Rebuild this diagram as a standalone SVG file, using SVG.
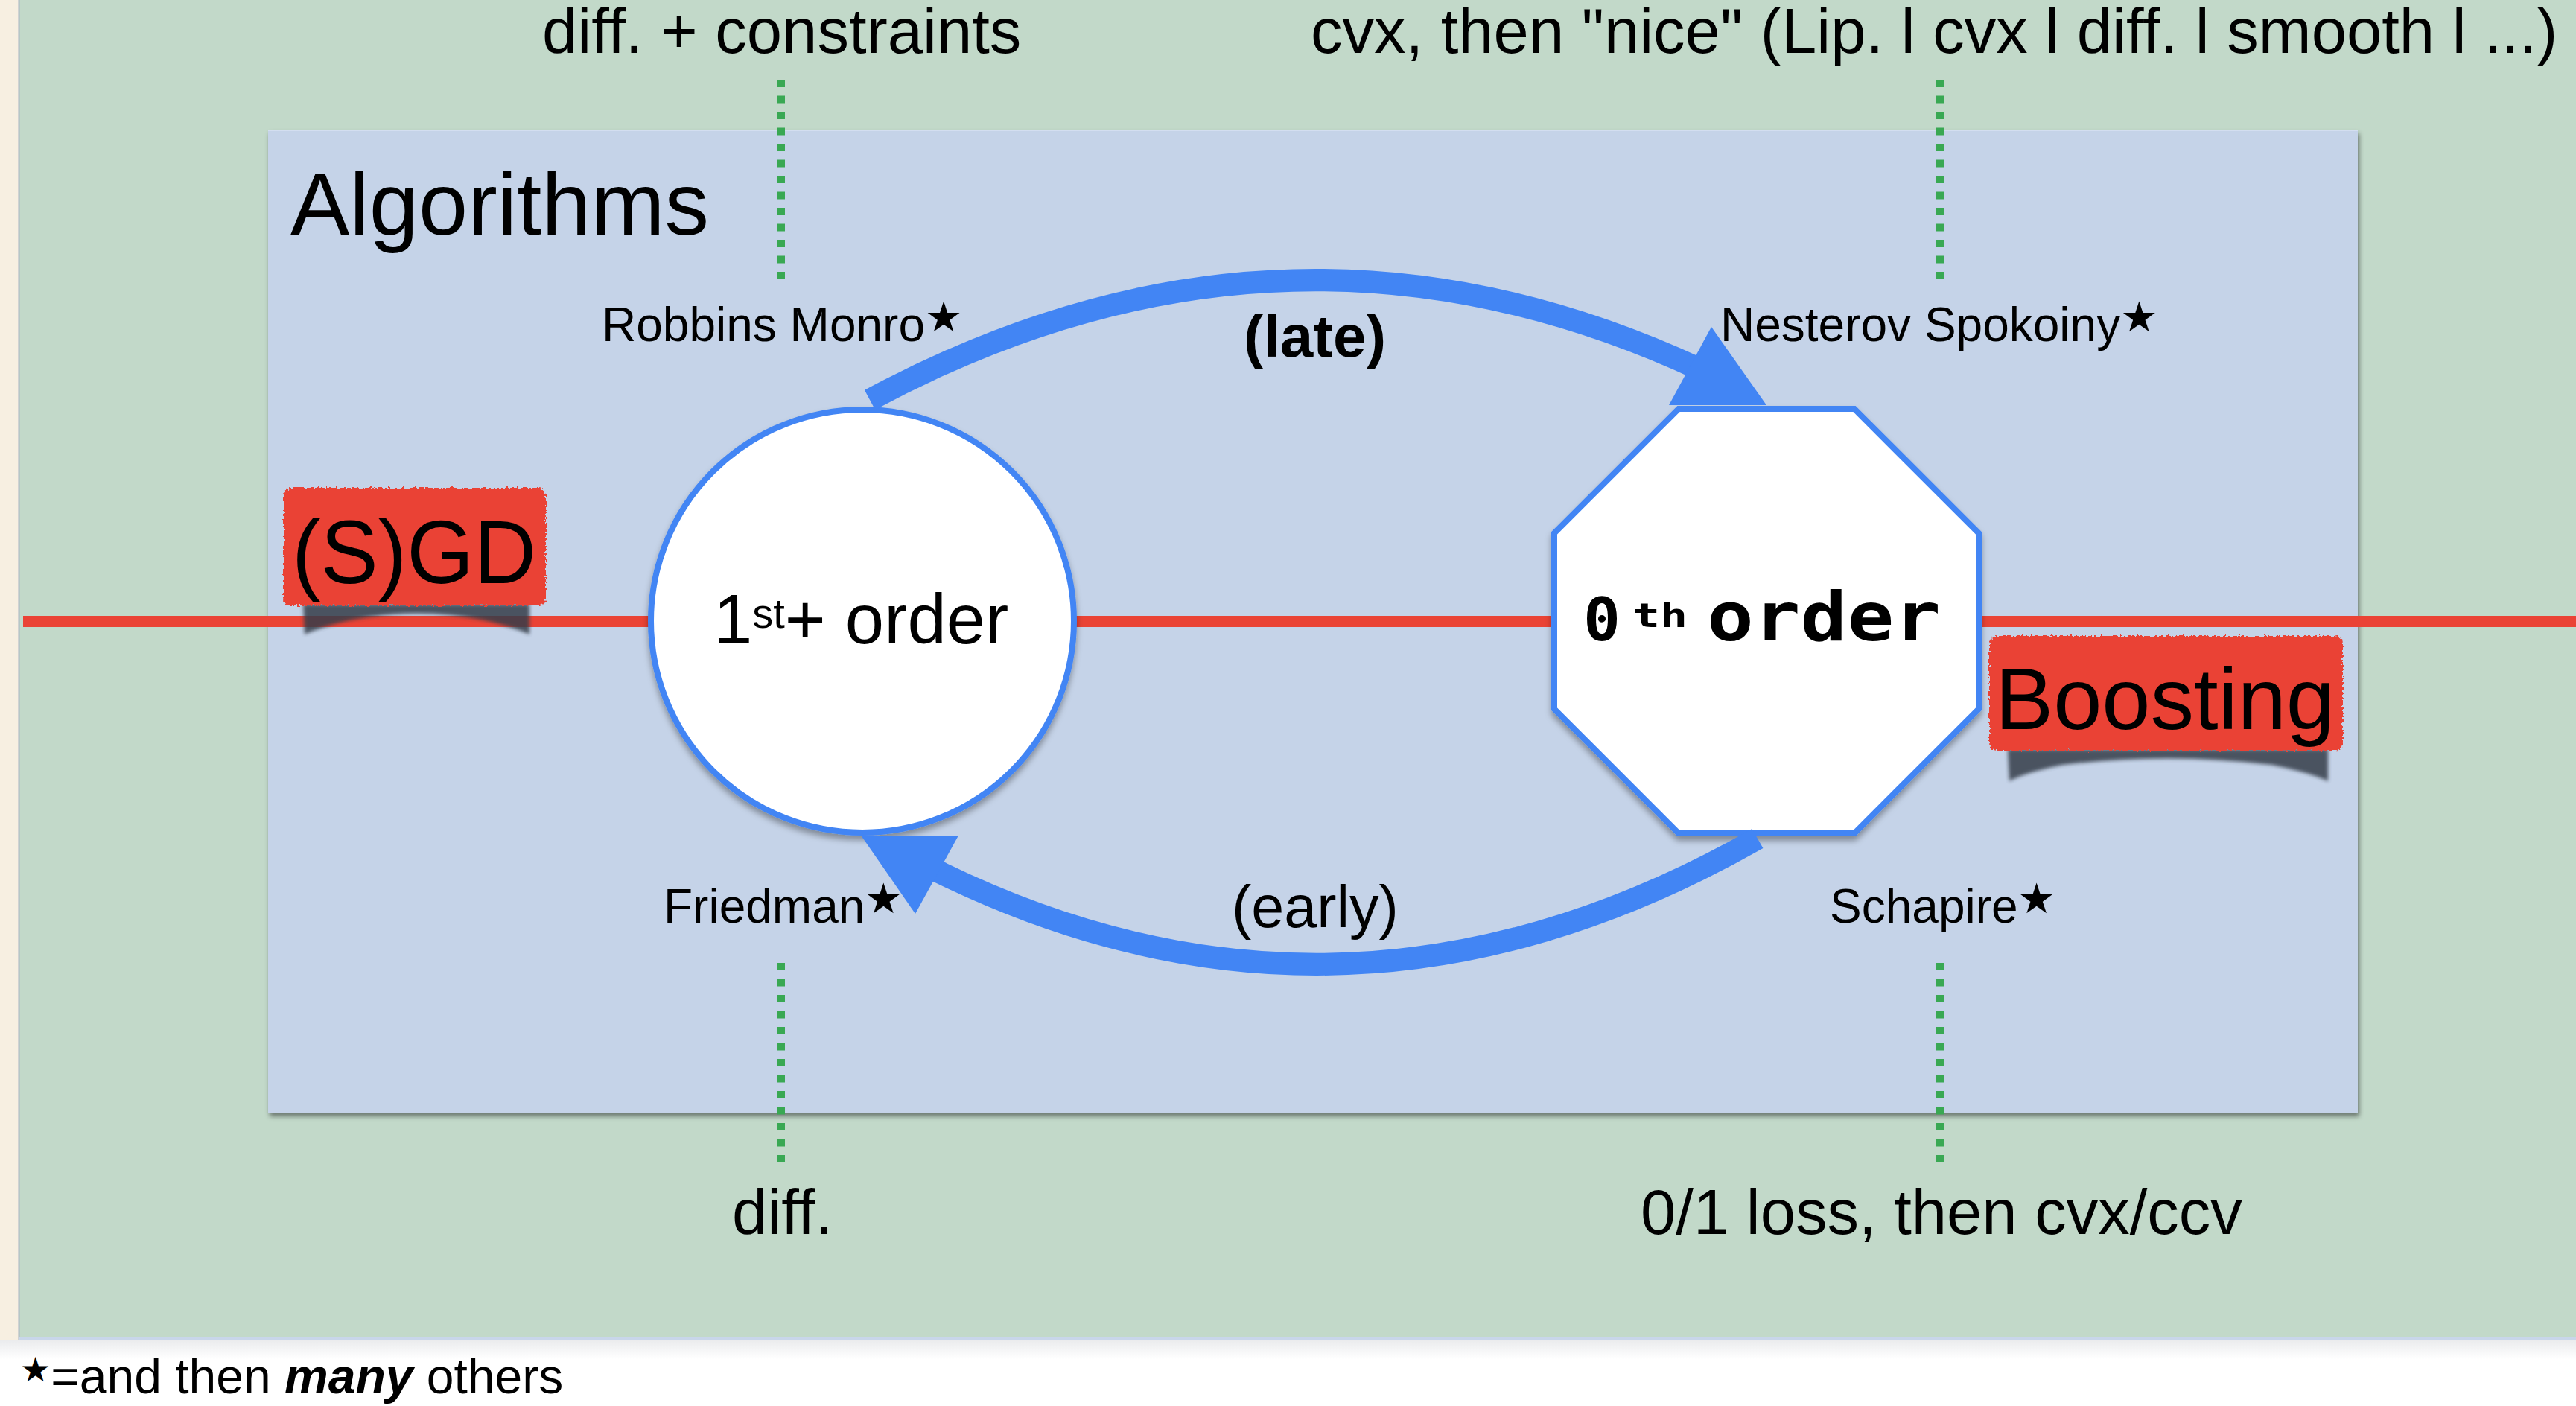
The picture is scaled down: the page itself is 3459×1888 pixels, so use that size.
<svg xmlns="http://www.w3.org/2000/svg" width="3459" height="1888" viewBox="0 0 3459 1888">
<defs>
<style>
.t{font-family:"Liberation Sans",Arial,Helvetica,sans-serif;fill:#000}
.big{font-size:85px}
.small{font-size:64px}
.star{font-family:"DejaVu Sans",sans-serif}
.pix{font-family:"DejaVu Sans Mono","Liberation Mono",monospace;font-weight:bold;fill:#000}
.dots{stroke:#39a853;stroke-width:10;stroke-dasharray:10 11.5;fill:none}
.shaft{fill:none;stroke:#4285f4;stroke-width:30}
.head{fill:#4285f4}
.node{fill:#fff;stroke:#4285f4;stroke-width:8}
.tag{fill:#ea4335}
.curl{fill:#353d48;opacity:.85}
</style>
<filter id="boxShadow" x="-5%" y="-5%" width="110%" height="110%">
<feDropShadow dx="2" dy="5" stdDeviation="3" flood-color="#000" flood-opacity="0.45"/>
</filter>
<filter id="nodeShadow" x="-10%" y="-10%" width="120%" height="125%">
<feDropShadow dx="0" dy="6" stdDeviation="4" flood-color="#000" flood-opacity="0.35"/>
</filter>
<filter id="rough" x="-5%" y="-10%" width="110%" height="120%">
<feTurbulence type="fractalNoise" baseFrequency="0.3" numOctaves="2" seed="4" result="n"/>
<feDisplacementMap in="SourceGraphic" in2="n" scale="8" xChannelSelector="R" yChannelSelector="G"/>
</filter>
<filter id="blur" x="-10%" y="-50%" width="120%" height="200%">
<feGaussianBlur stdDeviation="2.5"/>
</filter>
<linearGradient id="footer" x1="0" y1="0" x2="0" y2="1">
<stop offset="0" stop-color="#e9eaec"/>
<stop offset="0.3" stop-color="#ffffff"/>
<stop offset="1" stop-color="#ffffff"/>
</linearGradient>
</defs>

<!-- background -->
<rect x="0" y="0" width="3459" height="1888" fill="#ffffff"/>
<rect x="0" y="1798" width="3459" height="90" fill="url(#footer)"/>
<rect x="0" y="0" width="25" height="1800" fill="#f7efe1"/>
<rect x="26" y="0" width="3433" height="1798" fill="#c2d9c9"/>
<line x1="25.5" y1="0" x2="25.5" y2="1800" stroke="#a9b6c4" stroke-width="2"/>
<rect x="26" y="1796" width="3433" height="4" fill="#c8d6ea"/>

<!-- Algorithms box -->
<g id="algorithms">
<rect x="360" y="174" width="2806" height="1320" fill="#c5d3e8" filter="url(#boxShadow)"/>
<line x1="360" y1="175" x2="3166" y2="175" stroke="#d3def0" stroke-width="2"/>
<text class="t" x="390" y="315" font-size="119">Algorithms</text>
</g>

<!-- dotted guide lines -->
<g id="guides">
<line class="dots" x1="1049" y1="107" x2="1049" y2="377"/>
<line class="dots" x1="2605" y1="107" x2="2605" y2="377"/>
<line class="dots" x1="1049" y1="1293" x2="1049" y2="1563"/>
<line class="dots" x1="2605" y1="1293" x2="2605" y2="1563"/>
</g>

<!-- outer labels -->
<g id="outer-labels">
<text class="t big" x="728" y="71">diff. + constraints</text>
<text class="t big" x="1760" y="71">cvx, then "nice" (Lip. l cvx l diff. l smooth l ...)</text>
<text class="t big" x="983" y="1657">diff.</text>
<text class="t big" x="2203" y="1657">0/1 loss, then cvx/ccv</text>
</g>

<!-- red axis line -->
<line id="axis" x1="31" y1="834.5" x2="3459" y2="834.5" stroke="#ea4335" stroke-width="15"/>

<!-- nodes -->
<g id="node-first-order">
<circle class="node" cx="1158" cy="834" r="284" filter="url(#nodeShadow)"/>
<text class="t" x="958" y="864" font-size="94">1<tspan font-size="56" dy="-21">st</tspan><tspan dy="21">+ order</tspan></text>
</g>

<g id="node-zeroth-order">
<polygon class="node" filter="url(#nodeShadow)" points="2254,549 2490,549 2657,716 2657,952 2490,1119 2254,1119 2087,952 2087,716"/>
<text class="pix" x="2126" y="860" font-size="80" textLength="50" lengthAdjust="spacingAndGlyphs">0</text>
<text class="pix" x="2192" y="842" font-size="44" textLength="74" lengthAdjust="spacingAndGlyphs">th</text>
<text class="pix" x="2292" y="860" font-size="90" textLength="314" lengthAdjust="spacingAndGlyphs">order</text>
</g>

<!-- connectors -->
<g id="connectors">
<path class="shaft" d="M1168,537 Q1737,231 2306,507"/>
<polygon class="head" points="2241,544 2372,544 2298,439"/>
<path class="shaft" d="M2360,1126 Q1802,1444 1245,1163"/>
<polygon class="head" points="1157,1123 1287,1122 1229,1227"/>
<text class="t" x="1670" y="479" font-size="80" font-weight="bold">(late)</text>
<text class="t" x="1654" y="1245" font-size="79">(early)</text>
</g>

<!-- author labels -->
<g id="authors">
<text class="t small" x="808" y="458">Robbins Monro<tspan class="star" font-size="56" dy="-13">★</tspan></text>
<text class="t small" x="2310" y="458">Nesterov Spokoiny<tspan class="star" font-size="56" dy="-13">★</tspan></text>
<text class="t small" x="891" y="1239">Friedman<tspan class="star" font-size="56" dy="-13">★</tspan></text>
<text class="t small" x="2457" y="1239">Schapire<tspan class="star" font-size="56" dy="-13">★</tspan></text>
</g>

<!-- (S)GD tag -->
<g id="tag-sgd">
<path class="curl" filter="url(#blur)" d="M407,811 H711 V852 Q690,842 650,833 Q560,815 470,833 Q430,842 409,852 Z"/>
<rect class="tag" x="381" y="655" width="352" height="158" rx="10" filter="url(#rough)"/>
<text class="t" x="392" y="783" font-size="120" textLength="328" lengthAdjust="spacingAndGlyphs">(S)GD</text>
</g>

<!-- Boosting tag -->
<g id="tag-boosting">
<path class="curl" filter="url(#blur)" d="M2696,1006 H3126 V1049 Q3100,1037 3050,1027 Q2910,1010 2770,1027 Q2720,1037 2698,1049 Z"/>
<rect class="tag" x="2671" y="854" width="475" height="154" rx="10" filter="url(#rough)"/>
<text class="t" x="2679" y="979" font-size="117" textLength="456" lengthAdjust="spacingAndGlyphs">Boosting</text>
</g>

<!-- footer -->
<text class="t" x="27" y="1871" font-size="66"><tspan class="star" font-size="46" dy="-16">★</tspan><tspan dy="16">=and then </tspan><tspan font-weight="bold" font-style="italic">many</tspan> others</text>
</svg>
